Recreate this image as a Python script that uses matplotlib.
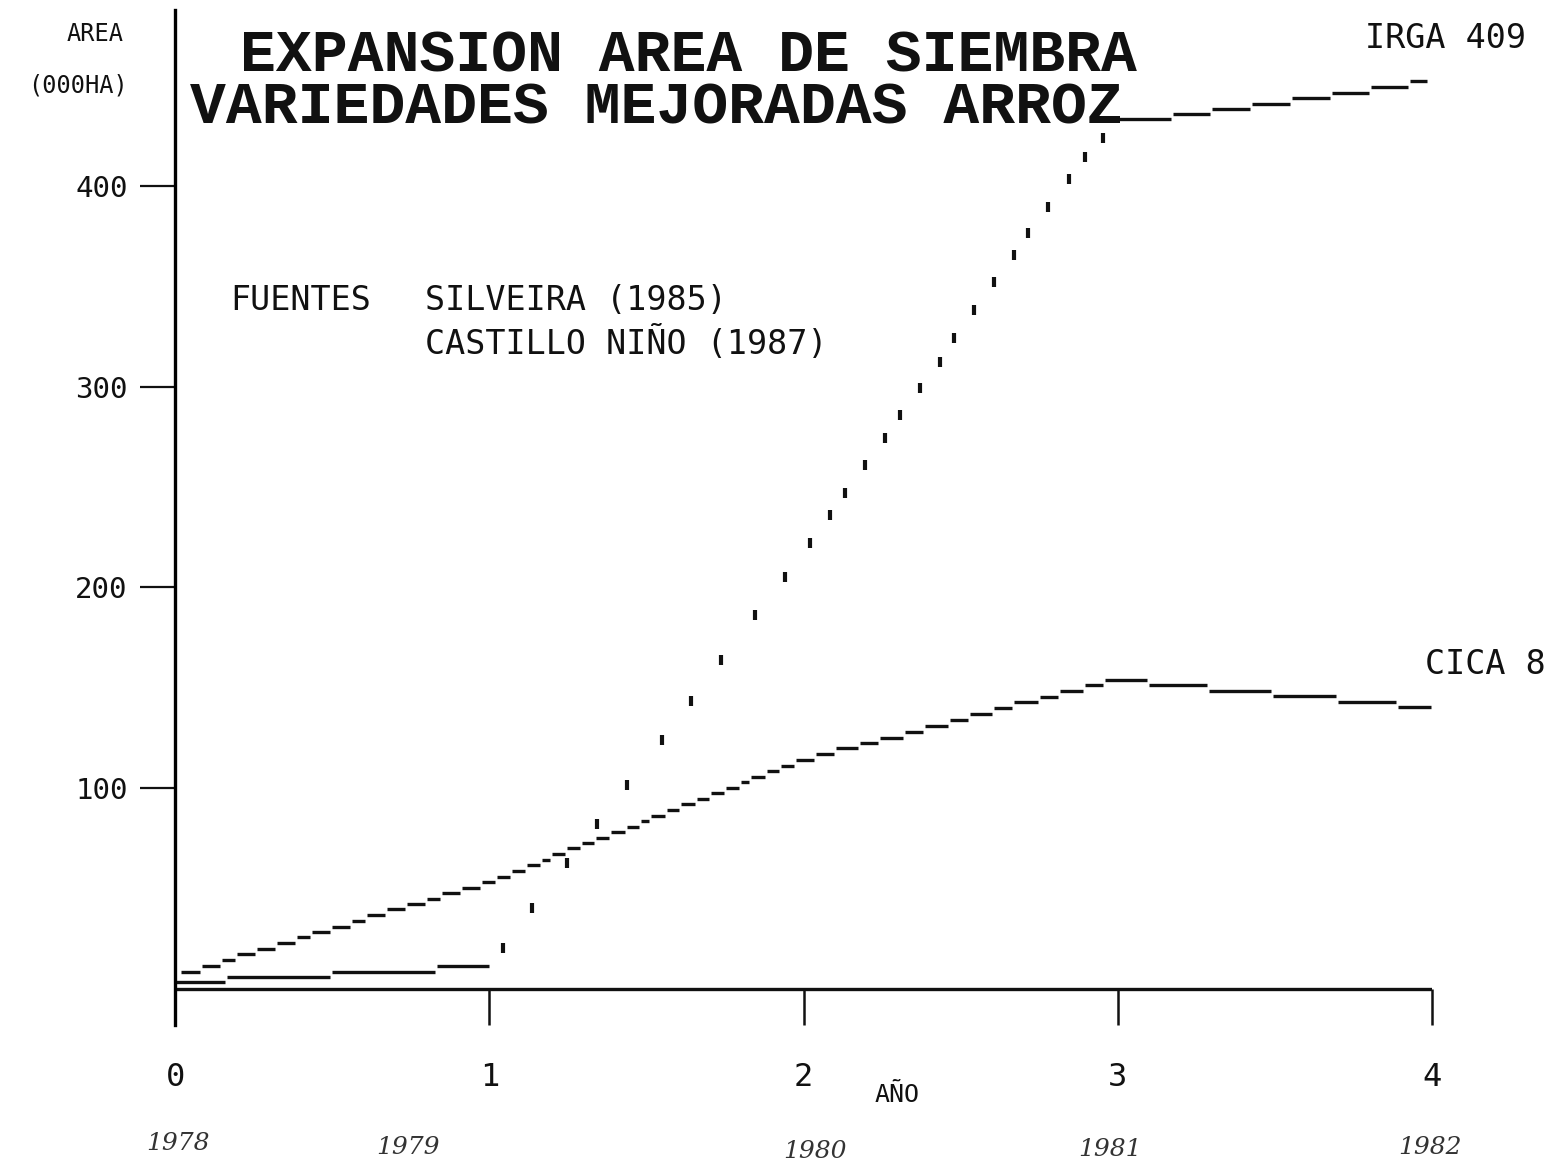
import matplotlib
matplotlib.use("Agg")
import matplotlib.pyplot as plt
import numpy as np

# ---------------- data ----------------
x_ticks = [0, 1, 2, 3, 4]
x_tick_labels = ["0", "1", "2", "3", "4"]
y_ticks = [100, 200, 300, 400]
y_tick_labels = ["100", "200", "300", "400"]
year_labels = ["1978", "1979", "1980", "1981", "1982"]

title_lines = ["EXPANSION AREA DE SIEMBRA", "VARIEDADES MEJORADAS ARROZ"]
y_label_lines = ["AREA", "(000HA)"]
x_label = "AÑO"
sources = ["FUENTES", "SILVEIRA (1985)", "CASTILLO NIÑO (1987)"]
series_names = ["IRGA 409", "CICA 8"]

# CICA 8 : stepped dashes (edges in years since 1978, values in 000 ha)
cica_edges = [0.016, 0.083, 0.146, 0.194, 0.258, 0.321, 0.385, 0.433, 0.496, 0.560,
              0.608, 0.671, 0.735, 0.799, 0.846, 0.910, 0.974, 1.021, 1.069, 1.117,
              1.165, 1.196, 1.244, 1.292, 1.337, 1.384, 1.435, 1.480, 1.512, 1.562,
              1.607, 1.658, 1.702, 1.750, 1.798, 1.830, 1.881, 1.925, 1.973, 2.037,
              2.100, 2.177, 2.240, 2.320, 2.383, 2.463, 2.527, 2.603, 2.667, 2.749,
              2.813, 2.893, 2.956, 3.096, 3.287, 3.491, 3.698, 3.889, 4.000]
cica_vals = [8.3, 11.3, 14.3, 17.3, 19.8, 22.8, 25.8, 28.3, 30.8, 33.7,
             36.7, 39.7, 42.2, 44.7, 47.7, 50.2, 53.2, 55.7, 58.6, 61.6,
             64.1, 67.1, 70.1, 72.6, 75.1, 78.1, 80.6, 83.6, 86.1, 89.1,
             92.0, 94.5, 97.5, 100.0, 103.0, 105.5, 108.5, 111.0, 114.0, 117.0,
             120.0, 122.4, 124.9, 127.9, 130.9, 133.9, 136.9, 139.9, 142.9, 145.4,
             148.4, 151.4, 153.8, 151.4, 148.4, 145.9, 142.9, 140.4]

# IRGA 409 : stepped start, dotted rise, stepped end
ipga_early_edges = [0.0, 0.162, 0.496, 0.831, 1.002]
ipga_early_vals = [3.3, 5.8, 8.3, 11.3]
ipga_dots_x = [1.044, 1.136, 1.247, 1.343, 1.438, 1.550, 1.642, 1.737, 1.846, 1.941,
               2.021, 2.084, 2.132, 2.196, 2.259, 2.307, 2.371, 2.434, 2.479, 2.543,
               2.606, 2.670, 2.714, 2.778, 2.845, 2.896, 2.953]
ipga_dots_y = [20.5, 40.4, 62.8, 82.3, 101.3, 123.7, 143.6, 163.6, 186.0, 205.0,
               221.9, 235.9, 246.9, 260.8, 274.3, 285.7, 299.2, 312.2, 324.1, 338.1,
               352.1, 365.5, 376.5, 389.5, 403.4, 414.4, 423.9]
ipga_late_edges = [2.959, 3.173, 3.297, 3.424, 3.551, 3.679, 3.803, 3.927, 3.987]
ipga_late_vals = [433.4, 435.9, 438.4, 440.9, 443.9, 446.4, 449.4, 452.4]

# ---------------- figure ----------------
W, H = 1562, 1173
fig = plt.figure(figsize=(W / 100, H / 100), dpi=100)
fig.patch.set_facecolor("white")

def fx(px):
    return px / W

def fy(py):
    return 1 - py / H

ax = fig.add_axes([fx(175), fy(1025), fx(1432) - fx(175), fy(10) - fy(1025)])
ax.set_xlim(0, 4)
ax.set_ylim(-18.1, 487.7)
for s in ["top", "right", "bottom"]:
    ax.spines[s].set_visible(False)
ax.spines["left"].set_linewidth(2.4)
ax.spines["left"].set_color("black")

mono = "DejaVu Sans Mono"
ink = "#111111"

# y ticks
ax.set_yticks(y_ticks)
ax.set_yticklabels(y_tick_labels, family=mono, fontsize=21, color=ink)
ax.tick_params(axis="y", direction="out", length=25, width=1.6, pad=9, colors=ink)

# x ticks drawn as vertical marks below the baseline
ax.set_xticks(x_ticks)
ax.set_xticklabels(x_tick_labels, family=mono, fontsize=23, color=ink)
ax.tick_params(axis="x", length=0, pad=27)
ax.vlines(x_ticks, -18.1, 0, colors=ink, linewidth=1.8, clip_on=False)
ax.hlines(0, 0, 4, colors=ink, linewidth=2.4)

# series
gap = 0.003
ce = np.array(cica_edges)
ax.hlines(cica_vals, ce[:-1] + gap, ce[1:] - gap, colors=ink, linewidth=2.4)
ee = np.array(ipga_early_edges)
ax.hlines(ipga_early_vals, ee[:-1] + gap, ee[1:] - gap, colors=ink, linewidth=2.4)
le = np.array(ipga_late_edges)
ax.hlines(ipga_late_vals, le[:-1] + gap, le[1:] - gap, colors=ink, linewidth=2.4)
ax.plot(ipga_dots_x, ipga_dots_y, linestyle="none", marker="|", markersize=7,
        markeredgewidth=3, color=ink)

# titles
fig.text(fx(240), fy(56), title_lines[0], family="Liberation Mono", weight="bold",
         fontsize=43, ha="left", va="center", color=ink)
fig.text(fx(190), fy(108), title_lines[1], family="Liberation Mono", weight="bold",
         fontsize=43, ha="left", va="center", color=ink)

# y label
fig.text(fx(95), fy(34), y_label_lines[0], family=mono, fontsize=17,
         ha="center", va="center", color=ink)
fig.text(fx(78), fy(86), y_label_lines[1], family=mono, fontsize=17,
         ha="center", va="center", color=ink)

# x label
fig.text(fx(897), fy(1095), x_label, family=mono, fontsize=18,
         ha="center", va="center", color=ink)

# sources
fig.text(fx(230), fy(301), sources[0], family=mono, fontsize=24,
         ha="left", va="center", color=ink)
fig.text(fx(425), fy(301), sources[1], family=mono, fontsize=24,
         ha="left", va="center", color=ink)
fig.text(fx(425), fy(343), sources[2], family=mono, fontsize=24,
         ha="left", va="center", color=ink)

# series names
fig.text(fx(1365), fy(38), series_names[0], family=mono, fontsize=24,
         ha="left", va="center", color=ink)
fig.text(fx(1425), fy(665), series_names[1], family=mono, fontsize=24,
         ha="left", va="center", color=ink)

# handwritten years
year_px = [(178, 1143), (408, 1147), (815, 1152), (1110, 1150), (1430, 1148)]
for lab, (px, py) in zip(year_labels, year_px):
    fig.text(fx(px), fy(py), lab, family="DejaVu Serif", style="italic",
             fontsize=18, weight="light", ha="center", va="center", color="#333333")

fig.savefig("out.png", dpi=100, facecolor="white")
